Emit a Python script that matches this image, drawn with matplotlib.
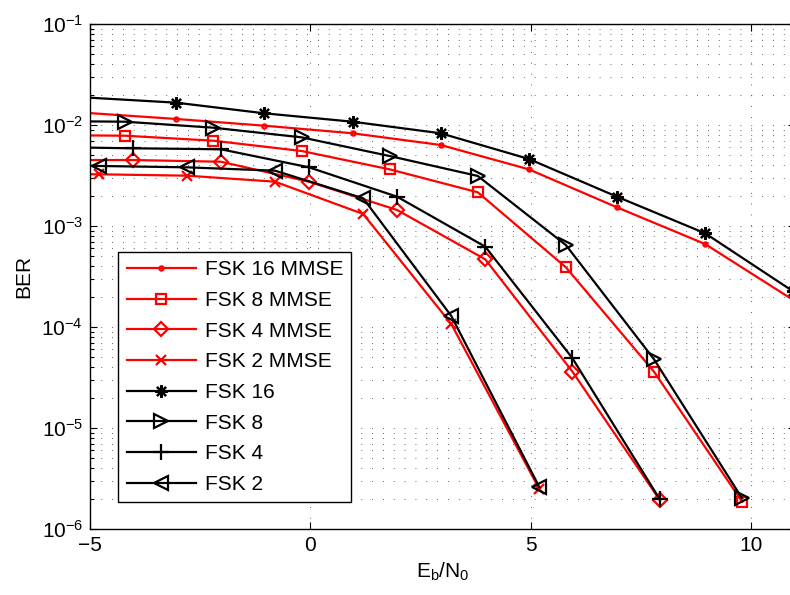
import matplotlib
matplotlib.use("Agg")
import matplotlib.pyplot as plt
import numpy as np

plt.rcParams['font.family'] = ['Liberation Sans', 'DejaVu Sans']
plt.rcParams['mathtext.fontset'] = 'custom'
plt.rcParams['mathtext.rm'] = 'Liberation Sans'
plt.rcParams['mathtext.it'] = 'Liberation Sans:italic'
plt.rcParams['mathtext.default'] = 'regular'

# Eb/N0 grids (first point of each sits just left of the axis)
x16 = [-5.04, -3.04, -1.04, 0.96, 2.96, 4.96, 6.96, 8.96, 10.96]
x8 = [-6.2, -4.2, -2.2, -0.2, 1.8, 3.8, 5.8, 7.8, 9.8]
x4 = [-6.03, -4.03, -2.03, -0.03, 1.97, 3.97, 5.95, 7.93]
x2 = [-6.8, -4.8, -2.8, -0.8, 1.2, 3.2, 5.2]

# BER, MMSE receivers
ber16_mmse = [0.01315, 0.01147, 0.00984, 0.00828, 0.00634, 0.00364, 0.00153, 0.000663, 0.000185]
ber8_mmse = [0.00796, 0.00783, 0.00699, 0.00553, 0.00364, 0.002157, 0.00039, 3.61e-5, 1.86e-6]
ber4_mmse = [0.0045, 0.0045, 0.00433, 0.002746, 0.00144, 0.000468, 3.61e-5, 1.94e-6]
ber2_mmse = [0.00327, 0.00325, 0.00315, 0.002746, 0.001315, 0.000107, 2.47e-6]

# BER, plain receivers
ber16 = [0.01867, 0.01663, 0.01305, 0.01078, 0.00828, 0.00461, 0.00195, 0.000847, 0.000225]
ber8 = [0.01096, 0.01078, 0.0094, 0.00755, 0.00493, 0.00313, 0.000648, 4.79e-5, 2.01e-6]
ber4 = [0.00606, 0.00588, 0.00575, 0.00381, 0.00195, 0.000624, 4.9e-5, 1.97e-6]
ber2 = [0.00402, 0.00393, 0.00381, 0.00353, 0.00188, 0.0001285, 2.59e-6]

labels = ['FSK 16 MMSE', 'FSK 8 MMSE', 'FSK 4 MMSE', 'FSK 2 MMSE',
          'FSK 16', 'FSK 8', 'FSK 4', 'FSK 2']

xlim = (-5, 11)

series = [
    (x16, ber16_mmse, 'red', '.', 6),
    (x8, ber8_mmse, 'red', 's', 6.5),
    (x4, ber4_mmse, 'red', 'D', 7.5),
    (x2, ber2_mmse, 'red', 'x', 7.5),
    (x16, ber16, 'black', (8, 2, 0), 9),
    (x8, ber8, 'black', '>', 10.5),
    (x4, ber4, 'black', '+', 11),
    (x2, ber2, 'black', '<', 10.5),
]

fig = plt.figure(figsize=(7.9, 5.95), dpi=100)
ax = fig.add_axes([90 / 790, 66 / 595, 705 / 790, 505 / 595])

for (x, y, c, m, ms), lab in zip(series, labels):
    mask = [v >= xlim[0] for v in x]
    ax.plot(x, y, color=c, lw=1.6, marker=m, ms=ms, mfc='none', mec=c,
            mew=1.6, markevery=mask, label=lab)

ax.set_yscale('log')
ax.set_xlim(*xlim)
ax.set_ylim(1e-6, 1e-1)
ax.set_xticks([-5, 0, 5, 10])

ax.grid(True, which='major', axis='both', color='0.2', lw=0.6, ls=(0, (1, 12)))
ax.grid(True, which='minor', axis='y', color='0.2', lw=0.6, ls=(0, (1, 12)))
ax.tick_params(which='both', direction='in', top=True, right=True, labelsize=15, pad=5)
ax.tick_params(which='major', length=5, width=0.8)
ax.tick_params(which='minor', length=3, width=0.8)
for s in ax.spines.values():
    s.set_linewidth(1.0)

ax.set_xlabel(r'E$_\mathrm{b}$/N$_0$', fontsize=15, labelpad=4)
ax.set_ylabel('BER', fontsize=15, labelpad=6)

leg = ax.legend(loc='upper left', bbox_to_anchor=(0.04, 0.5485), borderaxespad=0,
                fontsize=15, handlelength=3.35, handletextpad=0.4, labelspacing=0.56,
                fancybox=False, edgecolor='black', framealpha=1, borderpad=0.4)
leg.get_frame().set_linewidth(1.0)

fig.savefig('out.png', dpi=100)
